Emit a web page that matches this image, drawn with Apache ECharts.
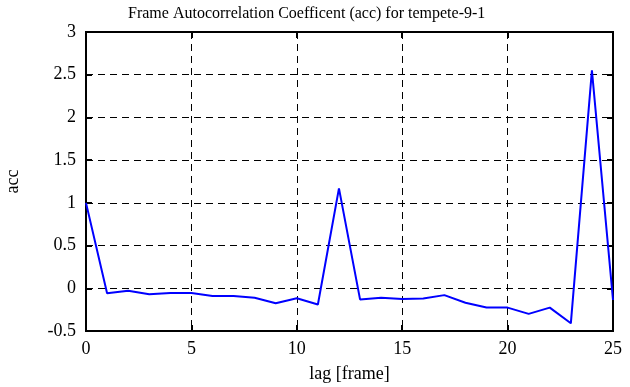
<!DOCTYPE html>
<html>
<head>
    <meta charset="utf-8"/>
    <title>Frame Autocorrelation</title>
    <script type="text/javascript" src="https://cdn.jsdelivr.net/npm/echarts@6/dist/echarts.min.js"></script>
    <style type="text/css">
        body { margin: 0; background: #fff; }
        #main { width: 630px; height: 387px; }
    </style>
</head>
<body>
<div id="main"></div>
<script type="text/javascript">
    // lag values and autocorrelation
    var lags = [0, 1, 2, 3, 4, 5, 6, 7, 8, 9, 10, 11, 12, 13, 14, 15, 16, 17, 18, 19, 20, 21, 22, 23, 24, 25];
    var acc = [1.0, -0.058, -0.028, -0.07, -0.055, -0.055, -0.09, -0.09, -0.11, -0.175, -0.117, -0.19, 1.17,
        -0.13, -0.11, -0.125, -0.12, -0.08, -0.17, -0.226, -0.226, -0.3, -0.226, -0.41, 2.55, -0.137];
    var yTicks = ['-0.5', '0', '0.5', '1', '1.5', '2', '2.5', '3'];

    var font = 'Liberation Serif';
    var points = lags.map(function (l, i) { return [l, acc[i]]; });

    var chart = echarts.init(document.getElementById('main'));

    var axisLine = { show: true, onZero: false, lineStyle: { color: '#000', width: 2 } };
    var tick = { show: true, inside: true, length: 6, lineStyle: { color: '#000', width: 2 } };
    var grid = { show: true, lineStyle: { color: '#000', type: [7, 5], width: 1 } };

    chart.setOption({
        animation: false,
        title: {
            text: 'Frame Autocorrelation Coefficent (acc) for tempete-9-1',
            left: 123,
            top: 1,
            textStyle: { fontFamily: font, fontSize: 16, fontWeight: 'normal', color: '#000' }
        },
        grid: {
            left: 86, right: 17, top: 32, bottom: 56,
            outerBoundsMode: 'none', containLabel: false,
            show: true, borderColor: '#000', borderWidth: 2
        },
        xAxis: [{
            type: 'value', min: 0, max: 25, interval: 5,
            name: 'lag [frame]', nameLocation: 'middle', nameGap: 34,
            nameTextStyle: { fontFamily: font, fontSize: 18, color: '#000' },
            axisLine: axisLine, axisTick: tick, splitLine: grid,
            axisLabel: { fontFamily: font, fontSize: 18, color: '#000', margin: 9 }
        }, {
            type: 'value', min: 0, max: 25, interval: 5, position: 'top',
            axisLine: axisLine, axisTick: tick, splitLine: { show: false },
            axisLabel: { show: false }
        }],
        yAxis: [{
            type: 'value', min: -0.5, max: 3, interval: 0.5,
            name: 'acc', nameLocation: 'middle', nameGap: 64, nameRotate: 90,
            nameTextStyle: { fontFamily: font, fontSize: 18, color: '#000' },
            axisLine: axisLine, axisTick: tick, splitLine: grid,
            axisLabel: {
                fontFamily: font, fontSize: 18, color: '#000', margin: 10,
                formatter: function (v) {
                    var s = String(Math.round(v * 10) / 10);
                    return yTicks.indexOf(s) >= 0 ? s : '';
                }
            }
        }, {
            type: 'value', min: -0.5, max: 3, interval: 0.5, position: 'right',
            axisLine: axisLine, axisTick: tick, splitLine: { show: false },
            axisLabel: { show: false }
        }],
        series: [{
            type: 'line',
            data: points,
            showSymbol: false,
            lineStyle: { color: '#0000ff', width: 2 },
            itemStyle: { color: '#0000ff' }
        }]
    });
</script>
</body>
</html>
